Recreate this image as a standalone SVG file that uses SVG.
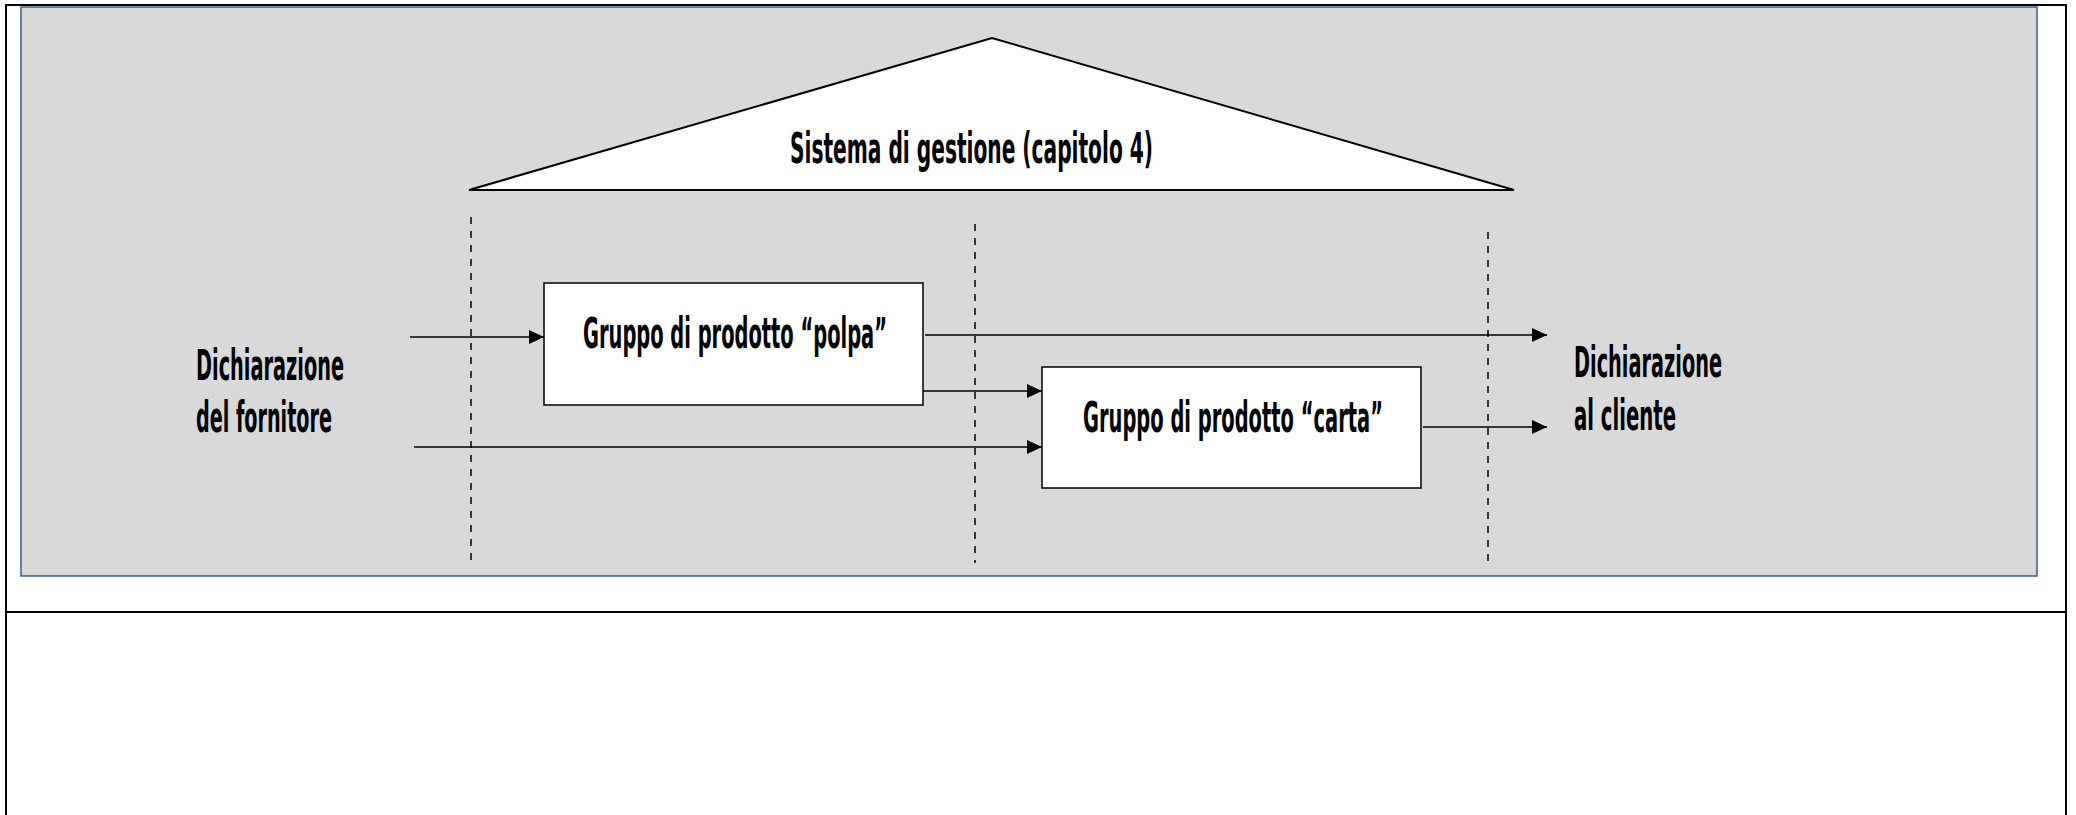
<svg xmlns="http://www.w3.org/2000/svg" width="2076" height="815" viewBox="0 0 2076 815">
<defs>
<marker id="arr" markerUnits="userSpaceOnUse" markerWidth="15" markerHeight="14" refX="15" refY="7" orient="auto">
<path d="M0,0 L15,7 L0,14 z" fill="#000"/>
</marker>
<style>
.t{font-family:"Liberation Sans Narrow","DejaVu Sans Condensed","Liberation Sans",sans-serif;font-size:42px;font-weight:bold;fill:#000}
.box{fill:#fff;stroke:#000;stroke-width:1.5}
.dash{stroke:#000;stroke-width:1.5;stroke-dasharray:7 7;fill:none}
.con{stroke:#000;stroke-width:1.5;fill:none;marker-end:url(#arr)}
</style>
</defs>
<rect x="0" y="0" width="2076" height="815" fill="#fff"/>
<g id="frame">
<rect x="6" y="5" width="2060" height="830" fill="none" stroke="#000" stroke-width="2"/>
<line x1="6" y1="612" x2="2066" y2="612" stroke="#000" stroke-width="2"/>
</g>
<g id="panel">
<rect x="21" y="7" width="2016" height="569" fill="#d9d9d9" stroke="#385d8a" stroke-width="1.5"/>
</g>
<g id="dividers">
<line class="dash" x1="471" y1="217" x2="471" y2="561"/>
<line class="dash" x1="975" y1="224" x2="975" y2="563"/>
<line class="dash" x1="1488" y1="232" x2="1488" y2="562"/>
</g>
<g id="sistema">
<polygon points="469,190 992,38 1514,190" fill="#fff" stroke="#000" stroke-width="2" stroke-linejoin="miter"/>
<text class="t" x="790" y="163" textLength="363" lengthAdjust="spacingAndGlyphs">Sistema di gestione (capitolo 4)</text>
</g>
<g id="fornitore">
<text class="t" x="196" y="380" textLength="148" lengthAdjust="spacingAndGlyphs">Dichiarazione</text>
<text class="t" x="196" y="432" textLength="136" lengthAdjust="spacingAndGlyphs">del fornitore</text>
</g>
<g id="polpa">
<rect class="box" x="544" y="283" width="379" height="122"/>
<text class="t" x="583" y="348" textLength="304" lengthAdjust="spacingAndGlyphs">Gruppo di prodotto “polpa”</text>
</g>
<g id="carta">
<rect class="box" x="1042" y="367" width="379" height="121"/>
<text class="t" x="1083" y="432" textLength="300" lengthAdjust="spacingAndGlyphs">Gruppo di prodotto “carta”</text>
</g>
<g id="cliente">
<text class="t" x="1574" y="377" textLength="148" lengthAdjust="spacingAndGlyphs">Dichiarazione</text>
<text class="t" x="1574" y="430" textLength="102" lengthAdjust="spacingAndGlyphs">al cliente</text>
</g>
<g id="connectors">
<line class="con" x1="410" y1="337" x2="544" y2="337"/>
<line class="con" x1="925" y1="335" x2="1547" y2="335"/>
<line class="con" x1="923" y1="391" x2="1042" y2="391"/>
<line class="con" x1="414" y1="447" x2="1042" y2="447"/>
<line class="con" x1="1423" y1="427" x2="1547" y2="427"/>
</g>
</svg>
